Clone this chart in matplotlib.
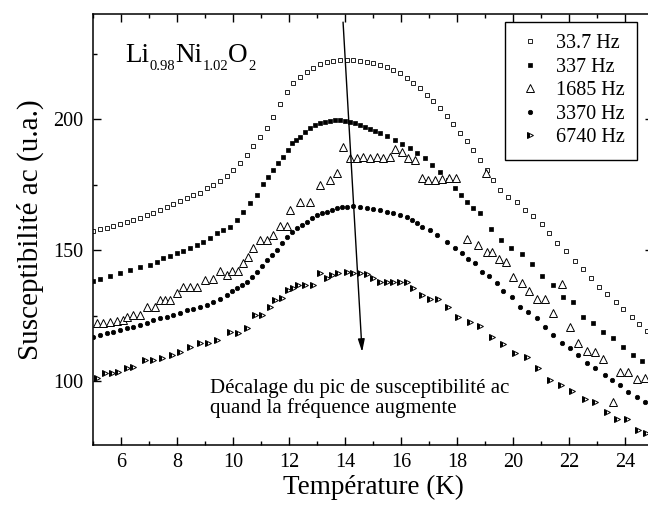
import matplotlib
matplotlib.use('Agg')
import matplotlib.pyplot as plt
from matplotlib.ticker import MultipleLocator

plt.rcParams['font.family'] = ['Liberation Serif', 'DejaVu Serif']

# ---------------- data ----------------
labels = ['33.7 Hz', '337 Hz', '1685 Hz', '3370 Hz', '6740 Hz']

T_337mHz = [5.0, 5.24, 5.49, 5.70, 5.95, 6.20, 6.42, 6.67, 6.92, 7.13,
            7.38, 7.63, 7.85, 8.10, 8.35, 8.56, 8.81, 9.06, 9.28, 9.53,
            9.78, 9.99, 10.24, 10.49, 10.70, 10.95, 11.20, 11.42, 11.67, 11.92,
            12.13, 12.38, 12.63, 12.85, 13.10, 13.35, 13.56, 13.81, 14.06, 14.27,
            14.53, 14.77, 14.99, 15.24, 15.49, 15.70, 15.95, 16.20, 16.42, 16.67,
            16.92, 17.13, 17.38, 17.63, 17.85, 18.10, 18.35, 18.56, 18.81, 19.06,
            19.28, 19.53, 19.81, 20.13, 20.42, 20.70, 21.02, 21.28, 21.56, 21.89,
            22.21, 22.49, 22.78, 23.06, 23.35, 23.67, 23.92, 24.24, 24.49, 24.78]
chi_33 = [157.4, 158.1, 158.5, 159.3, 160.0, 160.8, 161.6, 162.3, 163.5, 164.2,
          165.4, 166.5, 167.7, 168.8, 170.0, 171.1, 171.9, 173.8, 174.9, 176.4,
          178.4, 180.6, 183.3, 186.4, 189.8, 193.2, 196.7, 200.9, 205.8, 210.4,
          213.9, 216.2, 218.0, 219.6, 221.1, 221.9, 222.2, 222.6, 222.6, 222.6,
          222.2, 221.9, 221.5, 220.7, 220.0, 218.8, 217.7, 215.8, 213.9, 211.9,
          209.3, 207.0, 204.3, 201.3, 198.2, 194.8, 191.7, 188.3, 184.5, 180.6,
          176.8, 173.0, 170.3, 168.4, 165.4, 163.1, 160.0, 156.6, 152.8, 149.7,
          145.9, 142.9, 139.4, 136.0, 133.3, 130.3, 127.6, 124.5, 121.9, 119.2]

T_337 = [5.0, 5.24, 5.60, 5.95, 6.31, 6.67, 7.03, 7.28, 7.49, 7.74,
         7.99, 8.20, 8.45, 8.70, 8.92, 9.17, 9.42, 9.63, 9.88, 10.13,
         10.35, 10.60, 10.85, 11.06, 11.24, 11.42, 11.60, 11.78, 11.96, 12.10,
         12.24, 12.38, 12.56, 12.74, 12.92, 13.10, 13.28, 13.45, 13.63, 13.81,
         13.99, 14.17, 14.35, 14.53, 14.70, 14.88, 15.06, 15.24, 15.49, 15.77,
         16.02, 16.31, 16.56, 16.85, 17.10, 17.38, 17.67, 17.92, 18.13, 18.35,
         18.56, 18.81, 19.20, 19.56, 19.92, 20.31, 20.67, 21.02, 21.42, 21.78,
         22.13, 22.49, 22.85, 23.20, 23.56, 23.92, 24.28, 24.60]
chi_337 = [138.3, 139.1, 140.2, 141.3, 142.5, 143.6, 144.4, 145.5, 147.1, 147.8,
           149.0, 149.7, 150.9, 152.0, 153.2, 154.7, 156.6, 157.7, 158.9, 161.6,
           164.6, 168.0, 171.1, 175.3, 178.0, 180.6, 183.3, 185.6, 188.3, 190.9,
           192.1, 193.2, 195.2, 196.7, 197.8, 198.6, 199.0, 199.3, 199.7, 199.7,
           199.3, 199.0, 198.6, 197.8, 197.1, 196.3, 195.5, 194.8, 193.6, 192.1,
           190.6, 189.0, 187.1, 185.2, 182.5, 179.9, 176.8, 173.8, 171.1, 168.4,
           166.1, 164.2, 158.1, 153.9, 150.9, 148.6, 144.8, 140.2, 136.8, 132.2,
           130.3, 124.5, 122.2, 118.8, 116.5, 113.1, 110.0, 107.7]

T_1685 = [5.13, 5.35, 5.59, 5.85, 6.06, 6.20, 6.42, 6.67, 6.92, 7.20,
          7.38, 7.56, 7.74, 7.99, 8.20, 8.45, 8.70, 8.99, 9.28, 9.53,
          9.78, 9.96, 10.17, 10.35, 10.53, 10.70, 10.95, 11.20, 11.42, 11.67,
          11.92, 12.03, 12.38, 12.74, 13.10, 13.45, 13.70, 13.92, 14.17, 14.42,
          14.63, 14.88, 15.13, 15.35, 15.60, 15.77, 16.02, 16.24, 16.49, 16.74,
          16.95, 17.20, 17.45, 17.70, 17.95, 18.35, 18.74, 19.02, 19.06, 19.24,
          19.49, 19.74, 19.99, 20.31, 20.56, 20.85, 21.13, 21.42, 21.74, 22.03,
          22.31, 22.63, 22.92, 23.20, 23.56, 23.81, 24.10, 24.42, 24.70]
chi_1685 = [122.2, 122.2, 122.6, 123.0, 123.4, 124.5, 125.3, 125.3, 128.4, 128.4,
            131.0, 131.0, 131.0, 133.7, 136.0, 136.0, 136.0, 138.7, 139.0, 142.1,
            140.6, 142.1, 142.1, 145.1, 147.4, 150.9, 153.9, 153.9, 155.8, 159.3,
            159.3, 165.4, 168.4, 168.4, 174.9, 176.8, 179.5, 189.4, 185.2, 185.2,
            185.6, 185.2, 185.6, 185.2, 185.6, 188.7, 187.5, 185.2, 184.5, 177.6,
            176.8, 176.8, 177.2, 177.6, 177.6, 154.3, 152.0, 179.5, 149.3, 149.3,
            146.7, 145.5, 139.8, 137.5, 134.5, 131.4, 131.4, 126.1, 137.1, 120.7,
            114.6, 111.6, 111.2, 108.5, 92.1, 103.5, 103.5, 100.9, 101.3]

T_3370 = [5.0, 5.24, 5.49, 5.71, 5.95, 6.20, 6.42, 6.67, 6.92, 7.13,
          7.38, 7.63, 7.85, 8.10, 8.35, 8.57, 8.81, 9.06, 9.28, 9.53,
          9.78, 9.96, 10.13, 10.31, 10.49, 10.67, 10.85, 11.03, 11.20, 11.38,
          11.56, 11.74, 11.92, 12.10, 12.28, 12.45, 12.63, 12.81, 12.99, 13.17,
          13.35, 13.53, 13.70, 13.88, 14.06, 14.27, 14.52, 14.77, 14.99, 15.24,
          15.49, 15.71, 15.95, 16.20, 16.38, 16.56, 16.74, 17.03, 17.27, 17.63,
          17.92, 18.17, 18.38, 18.63, 18.88, 19.13, 19.42, 19.63, 19.95, 20.24,
          20.53, 20.85, 21.13, 21.42, 21.74, 22.03, 22.31, 22.63, 22.92, 23.27,
          23.52, 23.81, 24.10, 24.42, 24.70]
chi_3370 = [116.9, 117.7, 118.4, 118.8, 119.6, 120.3, 120.7, 121.5, 122.2, 123.4,
            124.1, 124.5, 125.3, 126.1, 127.2, 127.6, 128.4, 129.1, 130.3, 131.4,
            132.9, 134.5, 135.6, 136.8, 137.9, 139.8, 141.7, 144.0, 146.3, 148.2,
            150.1, 152.8, 155.1, 157.0, 158.5, 159.7, 160.8, 162.3, 163.5, 164.2,
            164.6, 165.4, 166.1, 166.5, 166.5, 166.9, 166.5, 166.1, 165.8, 165.4,
            164.6, 164.2, 163.5, 162.7, 161.6, 160.4, 158.9, 157.7, 155.8, 153.2,
            150.9, 149.0, 146.7, 145.1, 141.7, 140.2, 137.5, 134.5, 132.2, 128.4,
            126.4, 124.1, 120.7, 117.7, 114.6, 112.7, 110.0, 107.0, 105.1, 102.4,
            100.5, 98.6, 95.9, 94.0, 92.1]

T_6740 = [5.13, 5.42, 5.67, 5.88, 6.20, 6.42, 6.85, 7.13, 7.45, 7.81,
          8.10, 8.45, 8.81, 9.10, 9.42, 9.88, 10.17, 10.49, 10.78, 11.03,
          11.31, 11.49, 11.74, 11.95, 12.13, 12.31, 12.56, 12.85, 13.10, 13.35,
          13.53, 13.74, 14.06, 14.27, 14.53, 14.77, 14.99, 15.24, 15.49, 15.70,
          15.95, 16.20, 16.42, 16.74, 17.03, 17.31, 17.67, 18.02, 18.45, 18.81,
          19.24, 19.63, 20.06, 20.49, 20.88, 21.31, 21.70, 22.10, 22.56, 22.92,
          23.35, 23.70, 24.06, 24.45, 24.74]
chi_6740 = [101.3, 103.2, 103.2, 103.5, 105.1, 105.5, 108.1, 108.1, 108.9, 110.0,
            111.2, 113.1, 114.6, 114.6, 115.8, 118.8, 118.4, 120.3, 125.3, 125.3,
            128.4, 131.0, 131.8, 134.9, 135.6, 136.8, 136.8, 136.8, 141.3, 139.4,
            140.6, 141.3, 141.7, 141.3, 141.3, 140.9, 139.4, 137.9, 137.9, 137.9,
            137.9, 137.9, 135.6, 132.9, 131.4, 131.4, 128.4, 124.5, 122.6, 121.1,
            116.9, 114.2, 110.8, 109.3, 105.1, 100.5, 98.6, 96.3, 93.2, 92.1,
            88.3, 85.6, 85.6, 81.4, 80.3]

# ---------------- figure ----------------
fig = plt.figure(figsize=(6.48, 5.18), dpi=100)
ax = fig.add_axes([93.3 / 648, 73 / 518, 560 / 648, 431 / 518])

ax.plot(T_337mHz, chi_33, ls='none', marker='s', ms=2.8, mfc='white', mec='black',
        mew=0.6, label=labels[0])
ax.plot(T_337, chi_337, ls='none', marker='s', ms=3.0, mfc='black', mec='black',
        mew=0.5, label=labels[1])
ax.plot(T_1685, chi_1685, ls='none', marker='^', ms=5.5, mfc='white', mec='black',
        mew=0.7, label=labels[2])
ax.plot(T_3370, chi_3370, ls='none', marker='o', ms=3.2, mfc='black', mec='black',
        mew=0.5, label=labels[3])
ax.plot(T_6740, chi_6740, ls='none', marker='>', ms=5.0, fillstyle='left',
        mfc='black', markerfacecoloralt='white', mec='black', mew=0.7,
        label=labels[4])

ax.set_xlim(5, 25)
ax.set_ylim(75.7, 240.2)
ax.xaxis.set_major_locator(MultipleLocator(2))
ax.xaxis.set_minor_locator(MultipleLocator(1))
ax.yaxis.set_major_locator(MultipleLocator(50))
ax.yaxis.set_minor_locator(MultipleLocator(25))
ax.tick_params(which='both', direction='in', top=True, right=True, width=1.0)
ax.tick_params(which='major', length=6, labelsize=14.5)
ax.tick_params(which='minor', length=3)
ax.tick_params(axis='x', pad=6)
ax.tick_params(axis='y', pad=7)
for sp in ax.spines.values():
    sp.set_linewidth(1.1)

ax.set_xlabel('Température (K)', fontsize=19.5, labelpad=2)
ax.set_ylabel('Susceptibilité ac (u.a.)', fontsize=21, labelpad=7)

leg = ax.legend(loc='upper right', bbox_to_anchor=(0.971, 0.981), borderaxespad=0,
                frameon=True, fancybox=False, edgecolor='black', framealpha=1,
                fontsize=14.5, handlelength=1.25, handletextpad=0.67,
                labelspacing=0.22, borderpad=0.6, numpoints=1)
leg.get_frame().set_linewidth(1.0)

# compound formula Li0.98Ni1.02O2
BIG, SUB = 19.5, 10.5
t0 = ax.text(6.13, 222.0, 'Li', fontsize=BIG, va='baseline')
prev = t0
for main_txt, sub_txt in [(None, '0.98'), ('Ni', '1.02'), ('O', '2')]:
    if main_txt is not None:
        prev = ax.annotate(main_txt, xy=(1, 0), xycoords=(prev, t0), xytext=(0, 0),
                           textcoords='offset points', fontsize=BIG, va='bottom')
    prev = ax.annotate(sub_txt, xy=(1, 0), xycoords=(prev, t0), xytext=(0.3, -3.8),
                       textcoords='offset points', fontsize=SUB, va='bottom')

ax.text(9.17, 95.6, 'Décalage du pic de susceptibilité ac', fontsize=15, va='baseline')
ax.text(9.17, 87.8, 'quand la fréquence augmente', fontsize=15, va='baseline')

ax.annotate('', xy=(14.6, 111.2), xytext=(13.92, 237.1),
            arrowprops=dict(arrowstyle='-|>,head_length=0.75,head_width=0.2',
                            color='black', lw=1.0, shrinkA=0, shrinkB=0,
                            mutation_scale=10))

fig.savefig('out.png', dpi=100)
